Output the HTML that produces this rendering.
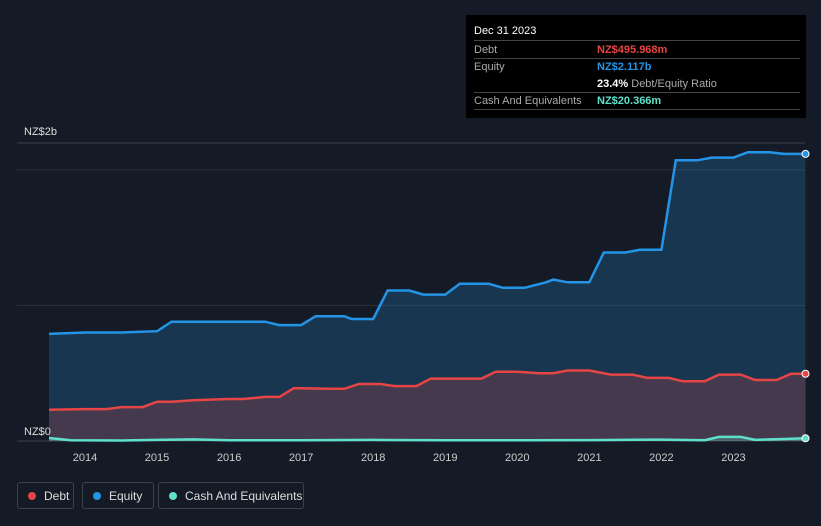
<!DOCTYPE html>
<html><head><meta charset="utf-8">
<style>
body{margin:0;background:#151b26;font-family:"Liberation Sans",sans-serif;}
#wrap{position:relative;width:821px;height:526px;overflow:hidden;background:#151b26;}
.tt{position:absolute;left:466px;top:15px;width:340px;height:103px;background:#000;color:#fff;font-size:11px;}
.row{position:absolute;left:8px;width:326px;border-bottom:1px solid #444;height:17px;}
.lab{position:absolute;left:0;top:3px;color:#aaa;}
.val{position:absolute;left:123px;top:3px;font-weight:bold;}
.leg{position:absolute;top:482px;height:27px;border:1px solid #3a414d;border-radius:3px;color:#ddd;font-size:12px;line-height:27px;box-sizing:border-box;}
.dot{display:inline-block;width:8px;height:8px;border-radius:50%;margin:0 8px 0 10px;}
</style></head><body>
<div id="wrap">
<svg id="svg" width="821" height="526" style="position:absolute;left:0;top:0"></svg>
<div class="tt">
 <div style="position:absolute;left:8px;top:10px;font-size:11px">Dec 31 2023</div>
 <div style="position:absolute;left:8px;top:25px;width:326px;border-top:1px solid #444"></div>
 <div class="row" style="top:26px"><span class="lab">Debt</span><span class="val" style="color:#e64545">NZ$495.968m</span></div>
 <div class="row" style="top:43px;border:none"><span class="lab">Equity</span><span class="val" style="color:#2394e6">NZ$2.117b</span></div>
 <div class="row" style="top:60px"><span class="val" style="color:#fff">23.4% <span style="color:#aaa;font-weight:normal">Debt/Equity Ratio</span></span></div>
 <div class="row" style="top:77px"><span class="lab">Cash And Equivalents</span><span class="val" style="color:#5ee0cc">NZ$20.366m</span></div>
</div>
<div class="leg" style="left:17px;width:57px"><span class="dot" style="background:#e64545"></span>Debt</div>
<div class="leg" style="left:82px;width:72px"><span class="dot" style="background:#2394e6"></span>Equity</div>
<div class="leg" style="left:158px;width:146px"><span class="dot" style="background:#5ee0cc"></span>Cash And Equivalents</div>
</div>
<script>
const eqT=[2013.5,2014,2014.5,2015,2015.2,2016.5,2016.7,2017,2017.2,2017.6,2017.7,2018,2018.2,2018.5,2018.7,2019,2019.2,2019.6,2019.8,2020.1,2020.4,2020.5,2020.7,2021,2021.2,2021.5,2021.7,2022,2022.2,2022.5,2022.7,2023,2023.2,2023.5,2023.7,2024];
const eqV=[0.79,0.80,0.80,0.81,0.88,0.88,0.855,0.855,0.92,0.92,0.90,0.90,1.11,1.11,1.08,1.08,1.16,1.16,1.13,1.13,1.17,1.19,1.17,1.17,1.39,1.39,1.41,1.41,2.07,2.07,2.09,2.09,2.13,2.13,2.117,2.117];
const dbT=[2013.5,2014,2014.3,2014.5,2014.8,2015,2015.2,2015.5,2016,2016.2,2016.5,2016.7,2016.9,2017.4,2017.6,2017.8,2018.1,2018.3,2018.6,2018.8,2019.5,2019.7,2020,2020.3,2020.5,2020.7,2021,2021.3,2021.6,2021.8,2022.1,2022.3,2022.6,2022.8,2023.1,2023.3,2023.6,2023.8,2024];
const dbV=[0.23,0.235,0.235,0.25,0.25,0.29,0.29,0.30,0.31,0.31,0.325,0.325,0.39,0.385,0.385,0.42,0.42,0.405,0.405,0.46,0.46,0.51,0.51,0.50,0.50,0.52,0.52,0.49,0.49,0.465,0.465,0.44,0.44,0.49,0.49,0.45,0.45,0.496,0.496];
const caT=[2013.5,2013.8,2014.5,2015,2015.5,2016,2017,2018,2019,2020,2021,2022,2022.6,2022.8,2023.1,2023.3,2023.7,2024];
const caV=[0.022,0.006,0.004,0.008,0.012,0.006,0.006,0.008,0.005,0.006,0.007,0.01,0.006,0.03,0.03,0.008,0.015,0.02];
const yTicks=[0,2];const yTickLabels=["NZ$0","NZ$2b"];
const xTicks=[2014,2015,2016,2017,2018,2019,2020,2021,2022,2023];
const X=t=>85+(t-2014)*72.05, Y=v=>441-v*135.6;
const svg=document.getElementById('svg'),NS='http://www.w3.org/2000/svg';
function mk(tag,a,name){const e=document.createElementNS(NS,tag);for(const k in a)e.setAttribute(k,a[k]);


svg.appendChild(e);return e;}
mk('line',{x1:17,x2:805,y1:143,y2:143,stroke:'#3a414d'},'top-border');
[1,2].forEach(v=>mk('line',{x1:17,x2:805,y1:Y(v),y2:Y(v),stroke:'#2a313d'},'gridline'));
mk('line',{x1:17,x2:805,y1:441,y2:441,stroke:'#3a414d'},'zero-line');
function pts(T,V){return T.map((t,i)=>X(t).toFixed(1)+','+Y(V[i]).toFixed(1)).join(' ');}
function area(T,V,fill,name){mk('polygon',{points:pts(T,V)+' '+X(T[T.length-1])+',441 '+X(T[0])+',441',fill:fill},name);}
area(eqT,eqV,'rgba(35,148,230,0.22)','equity-area');
area(dbT,dbV,'rgba(230,69,69,0.22)','debt-area');
area(caT,caV,'rgba(94,224,204,0.25)','cash-area');
mk('polyline',{points:pts(eqT,eqV),fill:'none',stroke:'#2394e6','stroke-width':2.5},'equity-line');
mk('polyline',{points:pts(dbT,dbV),fill:'none',stroke:'#e64545','stroke-width':2.5},'debt-line');
mk('polyline',{points:pts(caT,caV),fill:'none',stroke:'#5ee0cc','stroke-width':2.5},'cash-line');
[[eqT,eqV,'#2394e6','equity-end-dot'],[dbT,dbV,'#e64545','debt-end-dot'],[caT,caV,'#5ee0cc','cash-end-dot']].forEach(([T,V,c,n])=>mk('circle',{cx:X(T[T.length-1]),cy:Y(V[V.length-1]),r:3.5,fill:c,stroke:'#fff','stroke-width':1},n));
xTicks.forEach(t=>{const e=mk('text',{x:X(t),y:461,fill:'#ccc','font-size':11,'text-anchor':'middle'},'x-tick-label');e.textContent=t;});
yTicks.forEach((v,i)=>{const e=mk('text',{x:24,y:v===0?435:135,fill:'#ddd','font-size':11},'y-tick-label');e.textContent=yTickLabels[i];});
</script>
</body></html>
